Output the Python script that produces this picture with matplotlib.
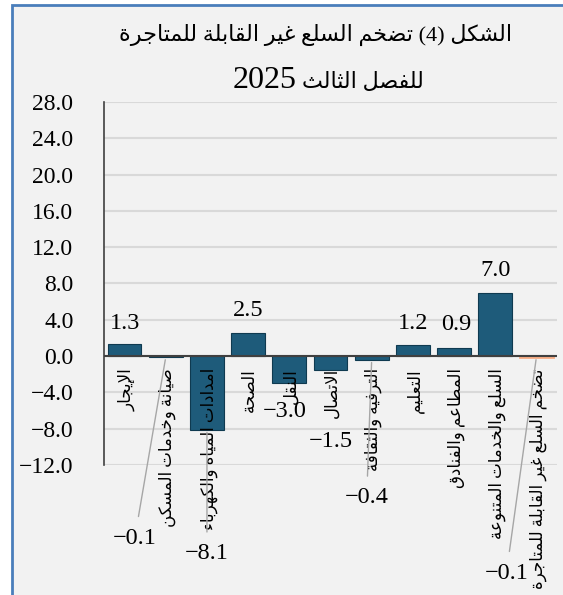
import re
import matplotlib
matplotlib.use('Agg')
import matplotlib.pyplot as plt
from matplotlib.patches import Rectangle

# data
categories = ['الإيجار', 'صيانة وخدمات المسكن', 'امدادات المياه والكهرباء', 'الصحة',
              'النقل', 'الاتصال', 'الترفيه والثقافة', 'التعليم', 'المطاعم والفنادق',
              'السلع والخدمات المتنوعة', 'تضخم السلع غير القابلة للمتاجرة']
values = [1.3, -0.1, -8.1, 2.5, -3.0, -1.5, -0.4, 1.2, 0.9, 7.0, -0.1]
yticks = [-12, -8, -4, 0, 4, 8, 12, 16, 20, 24, 28]
title1 = 'الشكل (4) تضخم السلع غير القابلة للمتاجرة'
title2 = 'للفصل الثالث'
year = '2025'

# label offsets (pixels from bar end) and whether a leader line is drawn
label_off = [(0, 21), (-31, -181), (0, -124), (0, 23), (-5, -28), (0, -72),
             (-5, -138), (0, 22), (2, 23), (0, 22), (-30, -216)]
leader = [False, True, True, False, False, False, True, False, False, False, True]

# minimal arabic shaping (matplotlib has no complex text layout)
AR_FORMS = {
    '\u0621': (0xFE80, 1), '\u0622': (0xFE81, 2), '\u0623': (0xFE83, 2), '\u0624': (0xFE85, 2),
    '\u0625': (0xFE87, 2), '\u0626': (0xFE89, 4), '\u0627': (0xFE8D, 2), '\u0628': (0xFE8F, 4),
    '\u0629': (0xFE93, 2), '\u062A': (0xFE95, 4), '\u062B': (0xFE99, 4), '\u062C': (0xFE9D, 4),
    '\u062D': (0xFEA1, 4), '\u062E': (0xFEA5, 4), '\u062F': (0xFEA9, 2), '\u0630': (0xFEAB, 2),
    '\u0631': (0xFEAD, 2), '\u0632': (0xFEAF, 2), '\u0633': (0xFEB1, 4), '\u0634': (0xFEB5, 4),
    '\u0635': (0xFEB9, 4), '\u0636': (0xFEBD, 4), '\u0637': (0xFEC1, 4), '\u0638': (0xFEC5, 4),
    '\u0639': (0xFEC9, 4), '\u063A': (0xFECD, 4), '\u0641': (0xFED1, 4), '\u0642': (0xFED5, 4),
    '\u0643': (0xFED9, 4), '\u0644': (0xFEDD, 4), '\u0645': (0xFEE1, 4), '\u0646': (0xFEE5, 4),
    '\u0647': (0xFEE9, 4), '\u0648': (0xFEED, 2), '\u0649': (0xFEEF, 2), '\u064A': (0xFEF1, 4),
}
LAM_ALEF = {'\u0622': 0xFEF5, '\u0623': 0xFEF7, '\u0625': 0xFEF9, '\u0627': 0xFEFB}


def shape(s):
    out, link, i = [], False, 0
    while i < len(s):
        c = s[i]
        if c == '\u0644' and i + 1 < len(s) and s[i + 1] in LAM_ALEF:
            out.append(chr(LAM_ALEF[s[i + 1]] + (1 if link else 0)))
            link = False
            i += 2
            continue
        if c not in AR_FORMS:
            out.append(c)
            link = False
            i += 1
            continue
        base, nf = AR_FORMS[c]
        nxt = s[i + 1] if i + 1 < len(s) else ''
        fwd = nf == 4 and nxt in AR_FORMS and AR_FORMS[nxt][1] > 1
        if link and fwd:
            g = base + 3
        elif link:
            g = base + 1 if nf > 1 else base
        elif fwd:
            g = base + 2
        else:
            g = base
        out.append(chr(g))
        link = fwd
        i += 1
    return out


def ar(s):
    txt = ''.join(shape(s)[::-1]).translate(str.maketrans('()', ')('))
    return re.sub(r'[0-9.]+', lambda m: m.group(0)[::-1], txt)


plt.rcParams['font.family'] = ['Liberation Serif', 'DejaVu Sans']

W, H = 563, 595
fig = plt.figure(figsize=(W / 100, H / 100), dpi=100, facecolor='white')
fig.patches.append(Rectangle((12 / W, -0.1), 1.2, 1.1 - 5 / H, transform=fig.transFigure,
                             facecolor='#f2f2f2', edgecolor='#4a7ebb', lw=2, zorder=-5))

ax = fig.add_axes([104 / W, 1 - 465 / H, (557 - 104) / W, (465 - 102) / H])
ax.set_facecolor('none')

x = range(len(values))
n = len(values)
colors = ['#1e5b7a'] * (n - 1) + ['#f7ad86']
edges = ['#0f3a50'] * (n - 1) + ['#f7ad86']
widths = [0.8] * (n - 1) + [2.0]
ax.bar(x, values, width=0.82, color=colors, edgecolor=edges, linewidth=widths, zorder=3)
ax.axhline(0, color='#404040', lw=1.5, zorder=4)

ax.set_xlim(-0.5, n - 0.5)
ax.set_ylim(-12, 28)
ax.set_yticks(yticks)
ax.set_yticklabels([f'{t:.1f}'.replace('-', '\u2212') for t in yticks], fontsize=17)
ax.tick_params(axis='y', length=0, pad=22)
ax.set_xticks([])
ax.grid(axis='y', color='#d9d9d9', lw=1.5, zorder=0)
for s in ['top', 'right', 'bottom']:
    ax.spines[s].set_visible(False)
ax.spines['left'].set_color('#404040')
ax.spines['left'].set_linewidth(1.2)

for i, v in enumerate(values):
    dx, dy = label_off[i]
    txt = f'{v:.1f}'.replace('-', '\u2212')
    if leader[i]:
        ax.annotate(txt, xy=(i, v), xytext=(dx, dy), textcoords='offset pixels',
                    ha='center', va='center', fontsize=17.5, zorder=6,
                    arrowprops=dict(arrowstyle='-', color='#a6a6a6', lw=1,
                                    shrinkA=6, shrinkB=2))
    else:
        ax.annotate(txt, xy=(i, v), xytext=(dx, dy), textcoords='offset pixels',
                    ha='center', va='center', fontsize=17.5, zorder=6)
    ax.annotate(ar(categories[i]), xy=(i, 0), xytext=(2, -12), textcoords='offset pixels',
                rotation=90, ha='center', va='top', fontsize=12, zorder=5,
                annotation_clip=False)

fig.text(316 / W, 1 - 35 / H, ar(title1), ha='center', va='center', fontsize=16)
fig.text(297 / W, 1 - 88 / H, year, ha='right', va='baseline', fontsize=23)
fig.text(302 / W, 1 - 88 / H, ar(title2), ha='left', va='baseline', fontsize=16)

fig.savefig('out.png', dpi=100, facecolor=fig.get_facecolor())
